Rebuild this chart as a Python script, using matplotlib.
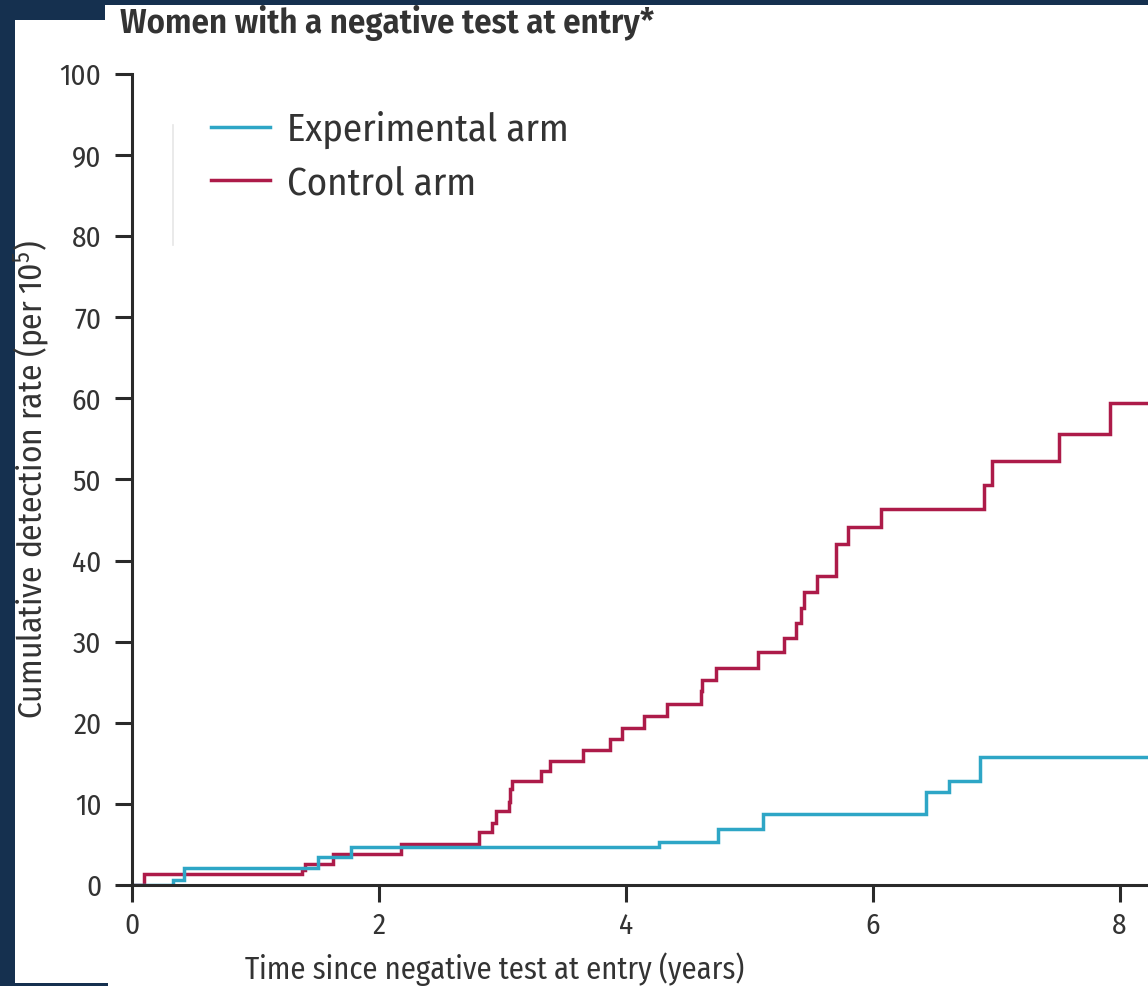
import numpy as np
import matplotlib
matplotlib.use("Agg")
import matplotlib.pyplot as plt
from matplotlib.patches import Rectangle
from matplotlib.lines import Line2D

# ==========================================
# Data
# ==========================================
exp_times = [0.0, 0.335, 0.42, 1.51, 1.77, 4.27, 4.75, 5.11, 6.43, 6.62, 6.87]
exp_rates = [0.0, 0.65, 2.05, 3.4, 4.7, 5.3, 6.9, 8.8, 11.5, 12.8, 15.8]

ctrl_times = [0.0, 0.10, 1.38, 1.40, 1.63, 2.175, 2.81, 2.92, 2.95, 3.05, 3.06,
              3.08, 3.31, 3.39, 3.65, 3.87, 3.97, 4.15, 4.33, 4.61, 4.62, 4.73,
              5.07, 5.28, 5.38, 5.42, 5.44, 5.55, 5.70, 5.80, 6.07, 6.90, 6.97,
              7.51, 7.92]
ctrl_rates = [0.0, 1.3, 1.9, 2.6, 3.8, 5.1, 6.5, 7.7, 9.1, 10.2, 11.85,
              12.8, 14.1, 15.3, 16.7, 18.0, 19.3, 20.8, 22.3, 23.9, 25.3, 26.7,
              28.7, 30.5, 32.3, 34.2, 36.1, 38.1, 42.0, 44.1, 46.4, 49.3, 52.3,
              55.6, 59.4]

x_ticks = [0, 2, 4, 6, 8]
y_ticks = [0, 10, 20, 30, 40, 50, 60, 70, 80, 90, 100]
x_max = 8.23
follow_up_end = 8.4

# ==========================================
# Style
# ==========================================
NAVY = '#15304f'
TEXT = '#333333'
AXIS = '#2a2a2a'
EXP_COLOR = '#2ea6c6'
CTRL_COLOR = '#ad1b49'
FONT = 'Fira Sans Condensed'

plt.rcParams['font.family'] = [FONT, 'DejaVu Sans']
plt.rcParams['font.weight'] = 400
plt.rcParams['mathtext.fontset'] = 'custom'
plt.rcParams['mathtext.rm'] = FONT
plt.rcParams['mathtext.it'] = FONT

W, H = 1148, 986
fig = plt.figure(figsize=(W / 100, H / 100), dpi=100, facecolor=NAVY)


def px_rect(x0, y0, x1, y1):
    """white panel given in pixel coords (top-left origin)"""
    fig.add_artist(Rectangle((x0 / W, 1 - y1 / H), (x1 - x0) / W, (y1 - y0) / H,
                             transform=fig.transFigure, facecolor='white',
                             edgecolor='none', zorder=0))


px_rect(15, 20, W, 983)
px_rect(105, 5, W, 21)
px_rect(108, 982, W, H)

ax = fig.add_axes([132 / W, (H - 885) / H, (W - 132) / W, (885 - 74) / H])
ax.set_facecolor('none')

# step curves, carried on to the end of follow-up
ax.step(ctrl_times + [follow_up_end], ctrl_rates + [ctrl_rates[-1]], where='post',
        color=CTRL_COLOR, lw=2.5, solid_joinstyle='miter', label='Control arm')
ax.step(exp_times + [follow_up_end], exp_rates + [exp_rates[-1]], where='post',
        color=EXP_COLOR, lw=2.5, solid_joinstyle='miter', label='Experimental arm')

ax.set_xlim(0, x_max)
ax.set_ylim(0, 100)
ax.set_xticks(x_ticks)
ax.set_yticks(y_ticks)

for side in ['top', 'right']:
    ax.spines[side].set_visible(False)
for side in ['left', 'bottom']:
    ax.spines[side].set_color(AXIS)
    ax.spines[side].set_linewidth(2.2)
ax.tick_params(axis='both', direction='out', length=12, width=2.2, color=AXIS,
               labelcolor=TEXT, labelsize=21)
ax.tick_params(axis='y', pad=10)
ax.tick_params(axis='x', pad=7)

ax.set_xlabel('Time since negative test at entry (years)', fontsize=22, color=TEXT)
ax.xaxis.set_label_coords(0.357, -0.083)
ax.set_ylabel('Cumulative detection rate (per 10$^5$)', fontsize=24, color=TEXT)
ax.yaxis.set_label_coords(-0.079, 0.5)

handles, labels = ax.get_legend_handles_labels()
leg = ax.legend(handles[::-1], labels[::-1], loc='upper left',
                bbox_to_anchor=(0.078, 0.955), frameon=False, fontsize=28,
                handlelength=1.5, handletextpad=0.46,
                labelspacing=0.42, borderpad=0, borderaxespad=0)
for t in leg.get_texts():
    t.set_color(TEXT)

# faint rule to the left of the legend
fig.add_artist(Line2D([173 / W, 173 / W], [1 - 125 / H, 1 - 245 / H],
                      transform=fig.transFigure, color='#e6e6e6', lw=1.2))

fig.text(120 / W, 1 - 33 / H, 'Women with a negative test at entry*',
         fontsize=25, fontweight=600, color=TEXT, ha='left', va='baseline')

fig.savefig('out.png', dpi=100, facecolor=NAVY)
